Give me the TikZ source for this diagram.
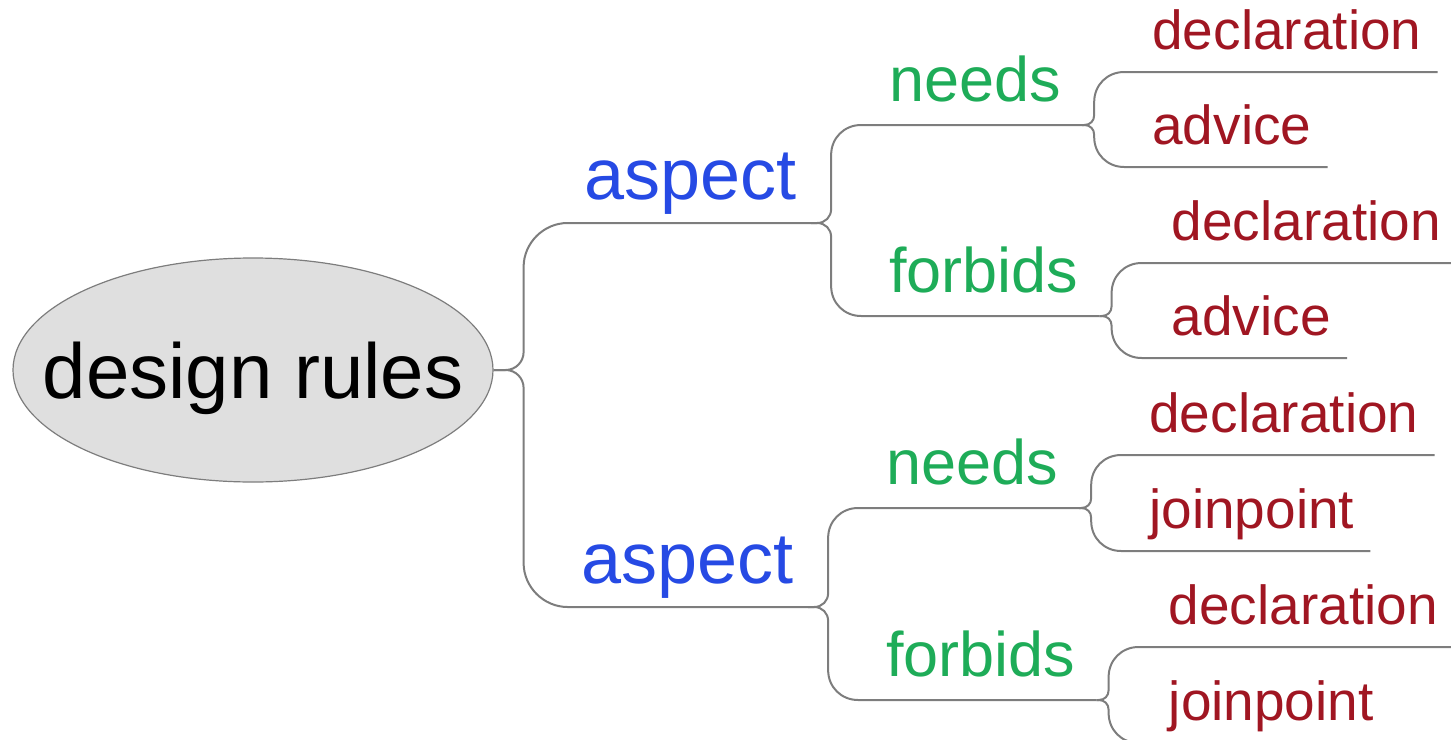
\documentclass[tikz,border=0pt]{standalone}
\usepackage{fontspec}
\setmainfont{Liberation Sans}
\usetikzlibrary{shapes.geometric,calc}

\definecolor{aspectblue}{RGB}{38,74,228}
\definecolor{rulegreen}{RGB}{30,172,88}
\definecolor{itemred}{RGB}{160,22,34}
\definecolor{branchgray}{RGB}{125,125,125}

\begin{document}
\begin{tikzpicture}[x=1pt,y=-1pt,
  rootnode/.style={ellipse,draw=branchgray,line width=1.2pt,fill=gray!25,
    minimum width=480pt,minimum height=224pt,inner sep=0pt,
    font=\fontsize{78}{78}\selectfont,text height=56pt,text depth=0pt},
  lbl/.style={anchor=south west,inner ysep=0pt,text depth=23pt},
  aspectlbl/.style={lbl,text=aspectblue,inner xsep=14pt,font=\fontsize{72}{72}\selectfont},
  rulelbl/.style={lbl,text=rulegreen,inner xsep=21pt,font=\fontsize{63}{63}\selectfont},
  itemlbl/.style={lbl,text=itemred,inner xsep=16pt,text depth=22pt,font=\fontsize{55}{55}\selectfont},
  branch/.style={draw=branchgray,line width=2pt}]
\useasboundingbox (0,0) rectangle (1451,739);
\clip (0,0) rectangle (1451,739);

\path (253,370) node[rootnode] (root) {\makebox[0pt]{design rules}};
\path (root.east)
  +(77,-147) node[aspectlbl] (a1) {aspect}
  +(74,237)  node[aspectlbl] (a2) {aspect};
\path (a1.south east)
  +(57,-98) node[rulelbl] (n1) {needs}
  +(57,93)  node[rulelbl] (f1) {forbids};
\path (a2.south east)
  +(57,-99) node[rulelbl] (n2) {needs}
  +(57,93)  node[rulelbl] (f2) {forbids};
\path (n1.south east)
  +(54,-53) node[itemlbl] (n1d) {declaration}
  +(54,42)  node[itemlbl] (n1a) {advice};
\path (f1.south east)
  +(56,-53) node[itemlbl] (f1d) {declaration}
  +(56,42)  node[itemlbl] (f1a) {advice};
\path (n2.south east)
  +(54,-53) node[itemlbl] (n2d) {declaration}
  +(54,43)  node[itemlbl] (n2j) {joinpoint};
\path (f2.south east)
  +(56,-53) node[itemlbl] (f2d) {declaration}
  +(56,43)  node[itemlbl] (f2j) {joinpoint};

% each branch: stub to (k), tight bend, upright run to (m), wide bend, underline
% \s = -1 for a child above its parent, 1 for one below
\foreach \c/\s in {a1/-1,a2/1} {
  \path (root.east) ++(30,0) coordinate (k) (k |- \c.south west) coordinate (m);
  \draw[branch] (root.east) -- ($(k)+(-18,0)$)
      .. controls ($(k)+(-8,0)$) and ($(k)+(0,\s*8)$) .. ($(k)+(0,\s*18)$)
    -- ($(m)+(0,-\s*44)$)
      .. controls ($(m)+(0,-\s*20)$) and ($(m)+(20,0)$) .. ($(m)+(44,0)$)
    -- (\c.south east);
}
\foreach \p/\c/\s in {a1/n1/-1,a1/f1/1,a2/n2/-1,a2/f2/1} {
  \path (\p.south east) ++(20,0) coordinate (k) (k |- \c.south west) coordinate (m);
  \draw[branch] (\p.south east) -- ($(k)+(-14,0)$)
      .. controls ($(k)+(-6,0)$) and ($(k)+(0,\s*6)$) .. ($(k)+(0,\s*14)$)
    -- ($(m)+(0,-\s*30)$)
      .. controls ($(m)+(0,-\s*13)$) and ($(m)+(13,0)$) .. ($(m)+(30,0)$)
    -- (\c.south east);
}
\foreach \p/\c/\s in {n1/n1d/-1,n1/n1a/1,f1/f1d/-1,f1/f1a/1,n2/n2d/-1,n2/n2j/1,f2/f2d/-1,f2/f2j/1} {
  \path (\p.south east) ++(12,0) coordinate (k) (k |- \c.south west) coordinate (m);
  \draw[branch] (\p.south east) -- ($(k)+(-10,0)$)
      .. controls ($(k)+(-4,0)$) and ($(k)+(0,\s*4)$) .. ($(k)+(0,\s*10)$)
    -- ($(m)+(0,-\s*30)$)
      .. controls ($(m)+(0,-\s*13)$) and ($(m)+(13,0)$) .. ($(m)+(30,0)$)
    -- (\c.south east);
}
\end{tikzpicture}
\end{document}
